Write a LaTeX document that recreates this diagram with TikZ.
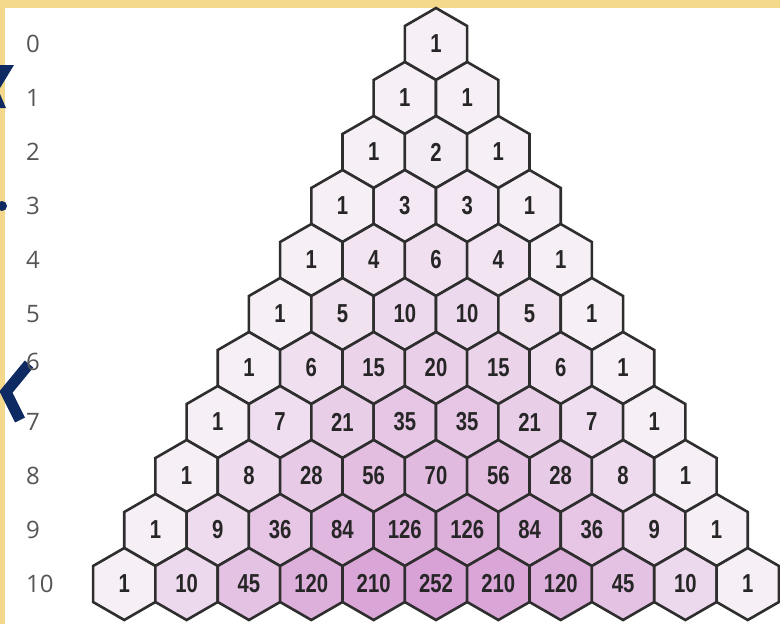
\documentclass[tikz,border=0pt]{standalone}
\usepackage{fontspec}
\usepackage{tikz}
\usetikzlibrary{shapes.geometric}
\newfontfamily\cellfont[FakeStretch=0.78]{Liberation Sans}
\newfontfamily\rowfont{Open Sans}
\definecolor{hexlight}{HTML}{F6F0F6}
\definecolor{hexdark}{HTML}{D8A2D6}
\definecolor{hexline}{HTML}{2E2E2E}
\definecolor{numtext}{HTML}{262626}
\definecolor{rowgray}{HTML}{555555}
\definecolor{paper}{HTML}{F4D98C}
\definecolor{navy}{HTML}{0E2A63}
\tikzset{
  hexcell/.style={
    regular polygon, regular polygon sides=6, shape border rotate=30,
    draw=hexline, line width=2.6pt, fill=hexdark!#1!hexlight,
    minimum size=72pt, inner sep=0pt, outer sep=0pt,
    text=numtext, font={\cellfont\bfseries\fontsize{26}{30}\selectfont}
  },
  hexcell/.default=0,
  rowlabel/.style={
    anchor=west, inner sep=0pt, text=rowgray,
    font={\rowfont\fontsize{24}{28}\selectfont}
  },
}

\begin{document}
\begin{tikzpicture}[x=1pt, y=-1pt]

% page: scanned edge on top and left
\useasboundingbox (0,0) rectangle (780,624);
\fill[paper] (0,0) rectangle (780,624);
\fill[white] (5,8) rectangle (780,624);
\fill[navy] (0,65) -- (14,65) -- (0,88) -- cycle;
\fill[navy] (0,94) -- (6,108) -- (0,108) -- cycle;
\fill[navy] (2,206) circle (5);
\draw[navy, line width=11pt] (29,364) -- (6,392) -- (20,420);

% Pascal's triangle, one row per list
\foreach \vals [count=\r from 0] in {
  {1},{1,1},{1,2,1},{1,3,3,1},{1,4,6,4,1},{1,5,10,10,5,1},
  {1,6,15,20,15,6,1},{1,7,21,35,35,21,7,1},{1,8,28,56,70,56,28,8,1},
  {1,9,36,84,126,126,84,36,9,1},{1,10,45,120,210,252,210,120,45,10,1}} {
  \foreach \v [count=\k from 0] in \vals {
    \pgfmathsetmacro{\shade}{100*(ln(\v)/ln(252))^1.4}
    \node[hexcell=\shade] (c-\r-\k) at ({436+(\k-\r/2)*62.35},{44+54*\r}) {\v};
  }
}

% row numbers
\foreach \r in {0,...,10} {
  \ifnum\r=6
    \node[rowlabel, yshift=6pt] (row-\r) at (26,{44+54*\r}) {\r};
  \else
    \node[rowlabel] (row-\r) at (26,{44+54*\r}) {\r};
  \fi
}

\end{tikzpicture}
\end{document}
